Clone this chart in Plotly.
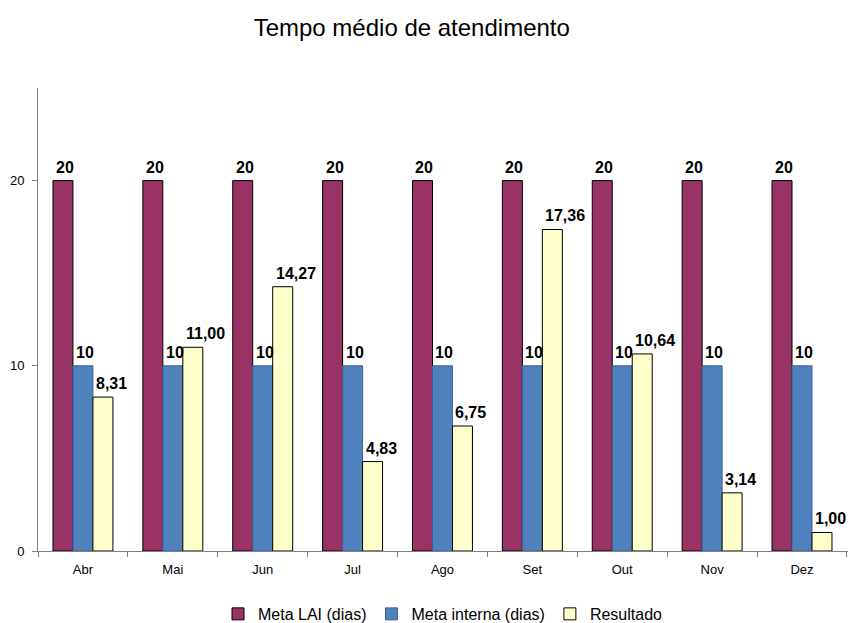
import plotly.graph_objects as go

meses = ["Abr", "Mai", "Jun", "Jul", "Ago", "Set", "Out", "Nov", "Dez"]
meta_lai = [20, 20, 20, 20, 20, 20, 20, 20, 20]
meta_interna = [10, 10, 10, 10, 10, 10, 10, 10, 10]
resultado = [8.31, 11.00, 14.27, 4.83, 6.75, 17.36, 10.64, 3.14, 1.00]

def fmt_int(v):
    return [f"{x:d}" for x in v]

def fmt_dec(v):
    return [f"{x:.2f}".replace(".", ",") for x in v]

series = [
    ("Meta LAI (dias)", meta_lai, fmt_int(meta_lai), "#993366", "#000000", -30),
    ("Meta interna (dias)", meta_interna, fmt_int(meta_interna), "#4F81BD", "#3A6395", -10),
    ("Resultado", resultado, fmt_dec(resultado), "#FFFFCC", "#000000", 10),
]

fig = go.Figure()
annotations = []
for name, vals, labels, color, lcolor, shift in series:
    fig.add_trace(go.Bar(
        x=meses, y=vals, name=name,
        marker=dict(color=color, line=dict(color=lcolor, width=1)),
    ))
    for m, v, t in zip(meses, vals, labels):
        annotations.append(dict(
            x=m, y=v, xref="x", yref="y", text=f"<b>{t}</b>", showarrow=False,
            xanchor="left", yanchor="bottom", xshift=shift + 1, yshift=3,
            font=dict(family="Arial", size=16, color="#000000"),
        ))

fig.update_layout(
    width=849, height=623,
    paper_bgcolor="white", plot_bgcolor="white",
    font=dict(family="Arial", size=13, color="#000000"),
    title=dict(text="Tempo médio de atendimento", x=0.485, xanchor="center",
               y=0.956, yanchor="middle", font=dict(family="Arial", size=24, color="#000000")),
    margin=dict(l=38, r=1, t=88, b=72),
    barmode="group", bargap=0.333, bargroupgap=0,
    showlegend=True,
    legend=dict(orientation="h", x=0.50, xanchor="center", yref="container",
                y=0.0145, yanchor="middle",
                font=dict(family="Arial", size=16), traceorder="normal"),
    annotations=annotations,
    xaxis=dict(showline=True, linecolor="#808080", linewidth=1, ticks="outside",
               tickson="boundaries", ticklen=5, tickcolor="#808080", automargin=False,
               tickfont=dict(size=13), showgrid=False, ticklabelstandoff=6),
    yaxis=dict(range=[0, 25], dtick=10, showline=True, linecolor="#808080", linewidth=1,
               ticks="outside", ticklen=5, tickcolor="#808080", showgrid=False, automargin=False,
               zeroline=False, tickfont=dict(size=13), ticklabelstandoff=5),
)
fig.write_html("out.html")
